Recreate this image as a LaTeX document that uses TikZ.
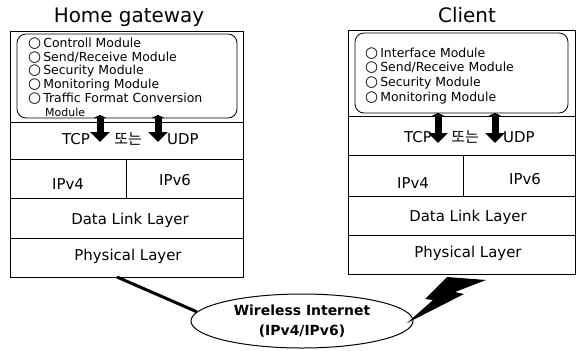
\documentclass[tikz,border=0pt]{standalone}
\usepackage{fontspec}
\setmainfont{DejaVu Sans}
\newfontfamily\krfont{Noto Sans CJK KR}
\usetikzlibrary{shapes.geometric,arrows.meta}

\newcommand{\modmark}{{\fontsize{15}{14}\selectfont ○}\,}

\tikzset{
  layer/.style={draw, line width=0.8bp, inner sep=0pt},
  modbox/.style={draw, line width=0.8bp, rounded corners=9bp, inner sep=0pt},
  moditem/.style={anchor=base west, inner sep=0pt, font=\fontsize{12.5}{14}\selectfont},
  layertext/.style={inner sep=0pt, font=\fontsize{15}{17}\selectfont},
  ortext/.style={inner sep=0pt, font=\fontsize{15}{17}\krfont},
  title/.style={inner sep=0pt, font=\fontsize{20}{24}\selectfont},
  blockarrow/.style={line width=7bp, {Triangle[length=3bp,width=13bp]}-{Triangle[length=10bp,width=19bp]}},
  link/.style={line width=3bp},
}

\begin{document}
\begin{tikzpicture}[x=1bp,y=-1bp]
        \fill[white] (0,0) rectangle (576,350);

        % home gateway stack
        \node[title] (gwtitle) at (129,17) {Home gateway};
        \node[layer, minimum width=233bp, minimum height=91bp] (gwmod) at (126.5,76.5) {};
        \node[modbox, minimum width=220bp, minimum height=84bp] (gwinner) at (127,76) {};
        \node[layer, minimum width=233bp, minimum height=37bp] (gwtcp) at (126.5,140.5) {};
        \node[layer, minimum width=116bp, minimum height=39bp] (gwv4) at (68,178.5) {};
        \node[layer, minimum width=117bp, minimum height=39bp] (gwv6) at (184.5,178.5) {};
        \node[layer, minimum width=233bp, minimum height=40bp] (gwdl) at (126.5,218) {};
        \node[layer, minimum width=233bp, minimum height=39bp] (gwphy) at (126.5,257.5) {};

        \foreach \y/\t in {47/{Controll Module}, 61/{Send/Receive Module}, 74.5/{Security Module},
                           88/{Monitoring Module}, 102/{Traffic Format Conversion}}
            \node[moditem] at (28,\y) {\modmark\t};
        \node[moditem, font=\fontsize{11}{12}\selectfont] (gwmore) at (45,116) {Module};

        \node[layertext, anchor=east] (gwtcptext) at (90,139) {TCP};
        \node[ortext] (gwor) at (128,139) {또는};
        \node[layertext, anchor=west] (gwudptext) at (167,139) {UDP};
        \node[layertext] at (68,184) {IPv4};
        \node[layertext] at (175,180) {IPv6};
        \node[layertext] at (130,220) {Data Link Layer};
        \node[layertext] at (128,256) {Physical Layer};

        % client stack
        \node[title] (cltitle) at (467,15) {Client};
        \node[layer, minimum width=227bp, minimum height=86bp] (clmod) at (461.5,73) {};
        \node[modbox, minimum width=213bp, minimum height=80bp] (clinner) at (461.5,73) {};
        \node[layer, minimum width=227bp, minimum height=39bp] (cltcp) at (461.5,135.5) {};
        \node[layer, minimum width=115bp, minimum height=41bp] (clv4) at (405.5,175.5) {};
        \node[layer, minimum width=112bp, minimum height=41bp] (clv6) at (519,175.5) {};
        \node[layer, minimum width=227bp, minimum height=39bp] (cldl) at (461.5,215.5) {};
        \node[layer, minimum width=227bp, minimum height=39bp] (clphy) at (461.5,254.5) {};

        \foreach \y/\t in {57/{Interface Module}, 71/{Send/Receive Module},
                           86/{Security Module}, 101/{Monitoring Module}}
            \node[moditem] at (365,\y) {\modmark\t};

        \node[layertext, anchor=east] (cltcptext) at (432,137) {TCP};
        \node[ortext] (clor) at (465,137) {또는};
        \node[layertext, anchor=west] (cludptext) at (503,137) {UDP};
        \node[layertext] at (413,183) {IPv4};
        \node[layertext] at (525,179) {IPv6};
        \node[layertext] at (468,217) {Data Link Layer};
        \node[layertext] at (468,253) {Physical Layer};

        % module to transport arrows
        \coordinate (gwtcptop) at (100,115);
        \coordinate (gwtcpbot) at (100,142);
        \coordinate (gwudptop) at (158,115);
        \coordinate (gwudpbot) at (158,142);
        \coordinate (cltcptop) at (438,113);
        \coordinate (cltcpbot) at (438,143);
        \coordinate (cludptop) at (495,113);
        \coordinate (cludpbot) at (495,143);
        \draw[blockarrow] (gwtcptop) -- (gwtcpbot);
        \draw[blockarrow] (gwudptop) -- (gwudpbot);
        \draw[blockarrow] (cltcptop) -- (cltcpbot);
        \draw[blockarrow] (cludptop) -- (cludpbot);

        % wireless internet
        \node[draw, line width=1bp, ellipse, minimum width=222bp, minimum height=54bp,
              inner sep=0pt, align=center, font=\bfseries\fontsize{14}{20}\selectfont] (net) at (302,321)
              {Wireless Internet\\(IPv4/IPv6)};
        \coordinate (gwlink) at (117,277);
        \draw[link] (gwlink) -- (net.175);
        \fill (447,277) -- (486,280) -- (455,292) -- (464,294) -- (407,323)
              -- (433,300) -- (425,299) -- cycle;
    \end{tikzpicture}
\end{document}
